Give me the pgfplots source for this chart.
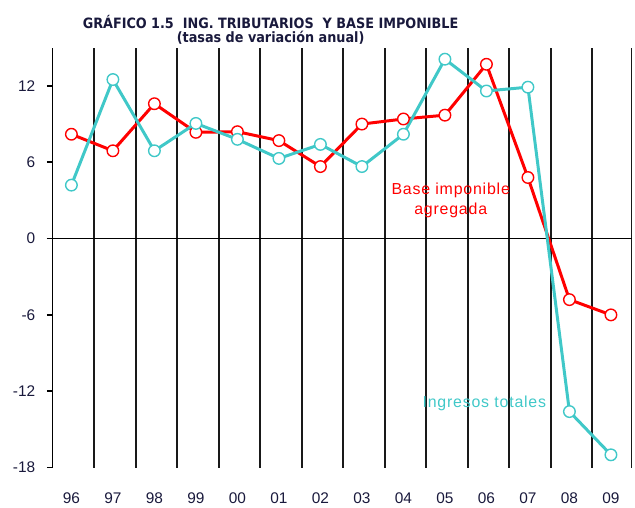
\documentclass[border=0pt]{standalone}
\usepackage{pgfplots}
\pgfplotsset{compat=1.18}
\usepackage{fontspec}
\setmainfont{Liberation Sans}
\newfontfamily\titlefont{DejaVu Sans Condensed}
\newfontfamily\lblfont[LetterSpace=5]{Liberation Sans}
\definecolor{redl}{RGB}{255,0,0}
\definecolor{cyanl}{RGB}{64,200,200}
\definecolor{navy}{RGB}{25,25,60}
\begin{document}
\begin{tikzpicture}
\begin{axis}[
 scale only axis, width=582pt, height=422pt,
 xmin=-0.45, xmax=13.5, ymin=-18, ymax=15,
 axis lines*=left,
 x axis line style={draw=none},
 y axis line style={black, line width=1.5pt},
 xtick={0,...,13},
 xticklabels={96,97,98,99,00,01,02,03,04,05,06,07,08,09},
 x tick style={draw=none},
 ytick={-18,-12,...,12},
 tick align=outside,
 y tick style={black, line width=1.5pt},
 major tick length=6pt,
 extra x ticks={0.55,1.55,2.55,3.55,4.55,5.55,6.55,7.55,8.55,9.55,10.55,11.55,12.55,13.5},
 extra x tick labels={},
 extra x tick style={grid=major, major grid style={black!90, line width=1.6pt}, tick style={draw=none}},
 extra y ticks={0}, extra y tick labels={},
 extra y tick style={grid=major, major grid style={black, line width=1.6pt}},
 tick label style={font=\fontsize{15.5}{15.5}\selectfont, text=navy},
 /pgf/number format/assume math mode=true,
 yticklabel style={xshift=-8pt},
 xticklabel style={yshift=-16pt},
 clip=false,
]
\addplot[redl, line width=3pt, mark=*, mark size=5.8pt, mark options={fill=white, draw=redl, line width=1.4pt, solid}] coordinates {
(0,8.2) (1,6.9) (2,10.6) (3,8.35) (4,8.4) (5,7.7) (6,5.66) (7,9.0) (8,9.4) (9,9.7) (10,13.7) (11,4.8) (12,-4.8) (13,-6.0)};
\addplot[cyanl, line width=3pt, mark=*, mark size=5.8pt, mark options={fill=white, draw=cyanl, line width=1.4pt, solid}] coordinates {
(0,4.2) (1,12.5) (2,6.9) (3,9.05) (4,7.8) (5,6.3) (6,7.4) (7,5.66) (8,8.2) (9,14.1) (10,11.6) (11,11.9) (12,-13.6) (13,-17.0)};
\node[text=redl, align=center, font=\lblfont\fontsize{16}{19.5}\selectfont] at (axis cs:9.14,3.0) {Base imponible\\agregada};
\node[text=cyanl, font=\lblfont\fontsize{16}{19}\selectfont] at (axis cs:9.95,-12.97) {Ingresos totales};
\end{axis}
\node[align=center, text=navy, font=\titlefont\bfseries\fontsize{14.3}{14.3}\selectfont] at ([xshift=219pt, yshift=18pt]current axis.north west) {GR\'AFICO 1.5\ \ ING. TRIBUTARIOS\ \ Y BASE IMPONIBLE\\(tasas de variaci\'on anual)};
\path ([xshift=-53pt,yshift=-34pt]current axis.south west) rectangle ([yshift=48pt]current axis.north east);
\end{tikzpicture}
\end{document}
